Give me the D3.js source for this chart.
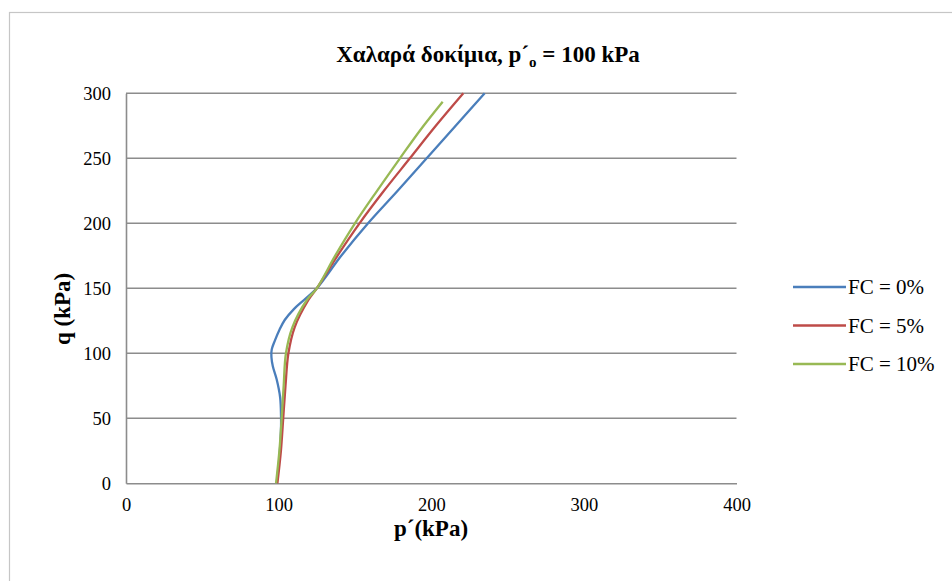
<!DOCTYPE html>
<html>
<head>
<meta charset="utf-8">
<script src="https://cdn.jsdelivr.net/npm/d3@7"></script>
<style>
  html, body { margin: 0; padding: 0; background: #fff; }
  svg { display: block; }
  svg text { font-family: "Liberation Serif", Tinos, "Times New Roman", "DejaVu Serif", serif; }
</style>
</head>
<body>
<svg id="chart" width="952" height="581"></svg>
<script>
// Stress paths (p', q) in kPa for loose specimens at p'o = 100 kPa
const seriesNames = ["FC = 0%", "FC = 5%", "FC = 10%"];
const seriesColors = ["#4A7EBB", "#BE4B48", "#98B954"];

const fc0_p = [98.7, 100.5, 101.5, 101.6, 101.0, 98.7, 96.2, 95.3, 95.5, 97.6, 100.5, 104.0, 110.0, 116.6, 125.0, 141.0, 158.6, 178.0, 197.0, 216.0, 235.0];
const fc0_q = [0, 20, 40, 50, 66, 80, 90, 97, 103, 110, 118, 125.6, 134, 141, 150, 175, 200, 225, 250, 275, 300];

const fc5_p = [99.2, 101.5, 103.0, 104.5, 106.4, 110.5, 119.5, 125.0, 138.5, 153.0, 169.0, 186.0, 203.0, 221.0];
const fc5_q = [0, 25, 50, 75, 100, 120, 141, 150, 175, 200, 225, 250, 275, 300];

const fc10_p = [98.3, 100.5, 102.0, 103.3, 104.8, 109.0, 118.5, 125.0, 137.0, 150.0, 164.5, 179.5, 193.0, 207.5];
const fc10_q = [0, 25, 50, 75, 100, 120, 141, 150, 175, 200, 225, 250, 272, 293.5];

const xTicks = [0, 100, 200, 300, 400];
const yTicks = [0, 50, 100, 150, 200, 250, 300];

const series = [
  { name: seriesNames[0], color: seriesColors[0], p: fc0_p, q: fc0_q },
  { name: seriesNames[1], color: seriesColors[1], p: fc5_p, q: fc5_q },
  { name: seriesNames[2], color: seriesColors[2], p: fc10_p, q: fc10_q }
];

const FONT = "'Liberation Serif', Tinos, 'Times New Roman', 'DejaVu Serif', serif";

const svg = d3.select("#chart");
const plot = { left: 126, right: 736.5, top: 93.3, bottom: 483.3 };

const x = d3.scaleLinear().domain([0, 400]).range([plot.left, plot.right]);
const y = d3.scaleLinear().domain([0, 300]).range([plot.bottom, plot.top]);

// chart frame
svg.append("rect")
  .attr("x", 9.5).attr("y", 12.5)
  .attr("width", 960).attr("height", 600)
  .attr("fill", "#fff").attr("stroke", "#c6c6c6").attr("stroke-width", 1.2);

// horizontal gridlines
svg.append("g")
  .selectAll("line")
  .data(yTicks.filter(d => d > 0))
  .join("line")
  .attr("x1", plot.left).attr("x2", plot.right)
  .attr("y1", d => y(d)).attr("y2", d => y(d))
  .attr("stroke", "#8c8c8c").attr("stroke-width", 1.6);

// axes
const xAxis = d3.axisBottom(x).tickValues(xTicks).tickSize(0).tickPadding(15);
const yAxis = d3.axisLeft(y).tickValues(yTicks).tickSize(0).tickPadding(15);

const gx = svg.append("g").attr("transform", `translate(0,${plot.bottom})`).call(xAxis);
const gy = svg.append("g").attr("transform", `translate(${plot.left},0)`).call(yAxis);
[gx, gy].forEach(g => {
  g.attr("font-family", FONT);
  g.select(".domain").attr("stroke", "#8c8c8c").attr("stroke-width", 1.6);
  g.selectAll("text")
    .style("font-family", FONT)
    .attr("font-size", 18.5).attr("fill", "#000");
});
gy.selectAll("text").attr("dy", "0.35em");

// stress path lines
const line = d3.line()
  .x(d => x(d[0]))
  .y(d => y(d[1]))
  .curve(d3.curveCatmullRom.alpha(0.5));

svg.append("g")
  .selectAll("path")
  .data(series)
  .join("path")
  .attr("d", s => line(s.p.map((v, i) => [v, s.q[i]])))
  .attr("fill", "none")
  .attr("stroke", s => s.color)
  .attr("stroke-width", 2.3)
  .attr("stroke-linejoin", "round");

// title
const title = svg.append("text")
  .attr("x", 488).attr("y", 62)
  .attr("text-anchor", "middle")
  .style("font-family", FONT)
  .attr("font-size", 23).attr("font-weight", "bold");
title.append("tspan").text("Χαλαρά δοκίμια, p´");
title.append("tspan").attr("font-size", 15).attr("dy", 5).text("o");
title.append("tspan").attr("dy", -5).text(" = 100 kPa");

// axis titles
svg.append("text")
  .attr("x", 431).attr("y", 536)
  .attr("text-anchor", "middle")
  .style("font-family", FONT)
  .attr("font-size", 23).attr("font-weight", "bold")
  .text("p´(kPa)");

svg.append("text")
  .attr("transform", "translate(70,309) rotate(-90)")
  .attr("text-anchor", "middle")
  .style("font-family", FONT)
  .attr("font-size", 23).attr("font-weight", "bold")
  .text("q (kPa)");

// legend
const legend = svg.append("g")
  .selectAll("g")
  .data(series)
  .join("g")
  .attr("transform", (d, i) => `translate(793,${287 + i * 38.5})`);
legend.append("line")
  .attr("x1", 0).attr("x2", 53)
  .attr("stroke", d => d.color).attr("stroke-width", 2.3);
legend.append("text")
  .attr("x", 55).attr("dy", "0.35em")
  .style("font-family", FONT)
  .attr("font-size", 21)
  .text(d => d.name);
</script>
</body>
</html>
